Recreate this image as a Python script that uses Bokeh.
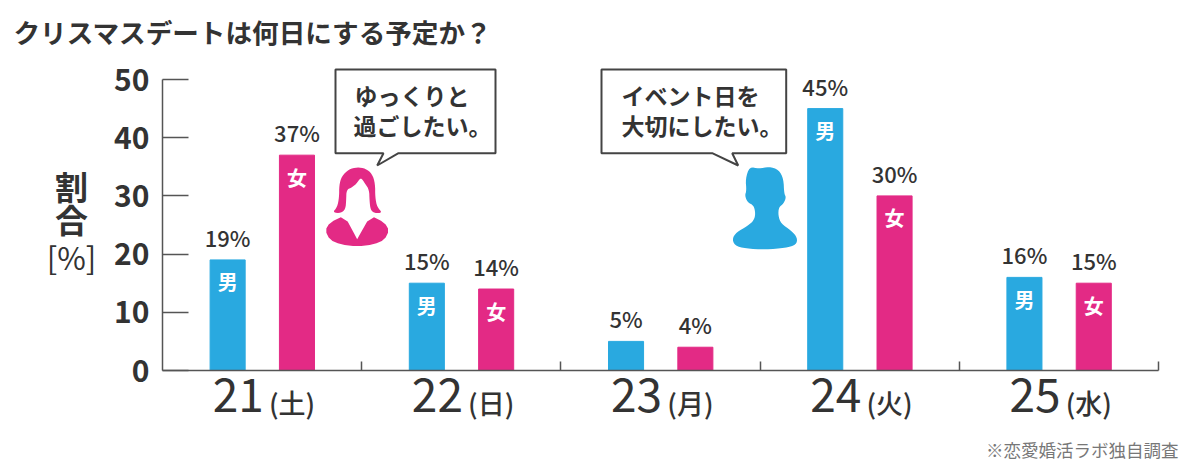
from bokeh.plotting import figure
from bokeh.models import ColumnDataSource, FixedTicker, Label, PolyAnnotation, Range1d
from bokeh.embed import file_html
from bokeh.resources import INLINE

days = ["21", "22", "23", "24", "25"]
weekdays = ["(土)", "(日)", "(月)", "(火)", "(水)"]
male = [19, 15, 5, 45, 16]
female = [37, 14, 4, 30, 15]
y_ticks = [0, 10, 20, 30, 40, 50]
title = "クリスマスデートは何日にする予定か？"
note = "※恋愛婚活ラボ独自調査"

FONT = "Noto Sans CJK JP"
MED = "Noto Sans CJK JP Medium"
BLUE, PINK, DARK, LINE = "#29a9e0", "#e32a85", "#333333", "#555555"
W, H = 1192, 461
X0, XS = 162, 199.2      # pixel of x=0, pixels per group
Y0, YS = 370, 5.82       # pixel of y=0, pixels per percent
OFF_M, OFF_F, BAR_W = -0.173, 0.175, 0.176

p = figure(width=W, height=H, output_backend="svg", toolbar_location=None,
           x_range=Range1d(-X0 / XS, (W - X0) / XS),
           y_range=Range1d((Y0 - H) / YS, Y0 / YS),
           min_border=0, background_fill_color="white", border_fill_color="white",
           outline_line_color=None)
p.grid.visible = False

yax = p.yaxis[0]
yax.fixed_location = 0
yax.bounds = (0, 50)
yax.ticker = FixedTicker(ticks=y_ticks)
yax.major_tick_in, yax.major_tick_out, yax.minor_tick_line_color = 26, 0, None
yax.axis_line_color = yax.major_tick_line_color = LINE
yax.axis_line_width = yax.major_tick_line_width = 1.5
yax.major_label_text_font = FONT
yax.major_label_text_font_style = "bold"
yax.major_label_text_font_size = "30px"
yax.major_label_text_color = DARK
yax.major_label_standoff = 13

tick_pos = [i + 0.5 - 0.12 for i in range(len(days))]
xax = p.xaxis[0]
xax.fixed_location = 0
xax.bounds = (0, 5)
xax.ticker = FixedTicker(ticks=tick_pos, minor_ticks=[1, 2, 3, 4, 5])
xax.major_label_overrides = {t: d for t, d in zip(tick_pos, days)}
xax.major_tick_in = xax.major_tick_out = 0
xax.major_tick_line_color = None
xax.minor_tick_in, xax.minor_tick_out = 9, 0
xax.axis_line_color = xax.minor_tick_line_color = LINE
xax.axis_line_width = 1.5
xax.minor_tick_line_width = 1.5
xax.major_label_text_font = FONT
xax.major_label_text_font_size = "46px"
xax.major_label_text_color = DARK
xax.major_label_standoff = 7

centers = [i + 0.5 for i in range(len(days))]
src = ColumnDataSource(dict(
    xm=[c + OFF_M for c in centers], xf=[c + OFF_F for c in centers],
    male=male, female=female,
    lm=[f"{v}%" for v in male], lf=[f"{v}%" for v in female]))
p.vbar(x="xm", top="male", width=BAR_W, source=src, color=BLUE)
p.vbar(x="xf", top="female", width=BAR_W, source=src, color=PINK)
for x, y, t in (("xm", "male", "lm"), ("xf", "female", "lf")):
    p.text(x=x, y=y, text=t, source=src, y_offset=-7, text_align="center", text_baseline="bottom",
           text_font={"value": MED}, text_font_size="22px", text_color=DARK)

# 性別ラベル (tall bars only)
inner = ColumnDataSource(dict(
    x=[c + OFF_M for c, v in zip(centers, male) if v >= 10] + [c + OFF_F for c, v in zip(centers, female) if v >= 10],
    y=[v for v in male if v >= 10] + [v for v in female if v >= 10],
    t=["男" for v in male if v >= 10] + ["女" for v in female if v >= 10]))
p.text(x="x", y="y", text="t", source=inner, y_offset=22, text_align="center", text_baseline="middle",
       text_font={"value": FONT}, text_font_size="20px", text_font_style="bold", text_color="white")


def sy(py):
    return H - py


def chaikin(points, rounds=2):
    for _ in range(rounds):
        out = []
        for i, (a, b) in enumerate(points):
            c, d = points[(i + 1) % len(points)]
            out += [(0.75 * a + 0.25 * c, 0.75 * b + 0.25 * d), (0.25 * a + 0.75 * c, 0.25 * b + 0.75 * d)]
        points = out
    return points


def poly(points, fill, line=None, lw=0):
    p.add_layout(PolyAnnotation(xs=[a for a, _ in points], ys=[sy(b) for _, b in points],
                                xs_units="screen", ys_units="screen",
                                fill_color=fill, fill_alpha=1.0,
                                line_color=line, line_width=lw, line_alpha=1.0 if line else 0.0))


def txt(s, px, py, size, align="center", font=MED, color=DARK, style="normal"):
    p.add_layout(Label(x=px, y=sy(py), x_units="screen", y_units="screen", text=s,
                       text_font=font, text_font_size=f"{size}px", text_font_style=style,
                       text_color=color, text_align=align, text_baseline="middle"))


# 女性シルエット
zw = lambda pts: [(320 + a / 3, 150 + b / 3) for a, b in pts]
poly(chaikin(zw([(110, 50), (135, 54), (155, 70), (164, 100), (164, 140), (170, 170), (186, 187), (162, 188),
                 (150, 178), (147, 150), (146, 118), (134, 100), (121, 80), (108, 100), (92, 112), (78, 118),
                 (77, 150), (75, 175), (62, 188), (36, 186), (50, 170), (56, 140), (56, 105), (63, 78), (85, 56)])), PINK)
poly(chaikin(zw([(72, 195), (110, 266), (110, 266), (110, 266), (150, 195), (192, 216), (206, 240), (192, 268),
                 (160, 282), (110, 288), (60, 282), (28, 268), (14, 240), (28, 216)]), 1), PINK)
# 男性シルエット
zm = lambda pts: [(725 + a / 3, 155 + b / 3) for a, b in pts]
poly(chaikin(zm([(72, 33), (100, 40), (130, 33), (160, 43), (174, 70), (176, 115), (182, 125), (174, 145), (160, 155),
                 (158, 180), (167, 205), (197, 225), (216, 247), (212, 268), (180, 277), (120, 282), (60, 279), (28, 270),
                 (20, 250), (33, 230), (65, 212), (85, 195), (90, 175), (85, 150), (66, 140), (58, 120), (63, 105),
                 (60, 70)])), BLUE)

# 吹き出し
poly([(335, 69), (495, 69), (495, 152.7), (398, 152.7), (376.7, 165), (383, 152.7), (335, 152.7)], "white", "#444444", 2)
poly([(601, 69), (785.7, 69), (785.7, 152.7), (731.7, 152.7), (737.7, 165), (711.7, 152.7), (601, 152.7)], "white", "#444444", 2)
txt("ゆっくりと", 354, 94, 23, align="left", font=FONT, style="bold")
txt("過ごしたい。", 353, 124, 23, align="left", font=FONT, style="bold")
txt("イベント日を", 621, 94, 23, align="left", font=FONT, style="bold")
txt("大切にしたい。", 621, 124, 23, align="left", font=FONT, style="bold")

txt(title, 13, 31, 26.6, align="left", font=FONT, style="bold")
txt("割", 71, 185, 33, font=FONT, style="bold")
txt("合", 71, 218, 33, font=FONT, style="bold")
txt("[%]", 71, 256, 31, font=FONT)
txt(note, 1178, 449, 17.5, align="right", font=FONT, color="#777777")
for wd, base in zip(weekdays, [291.5 + XS * i for i in range(5)]):
    txt(wd, base, 402, 27)

open("out.html", "w").write(file_html(p, INLINE))
